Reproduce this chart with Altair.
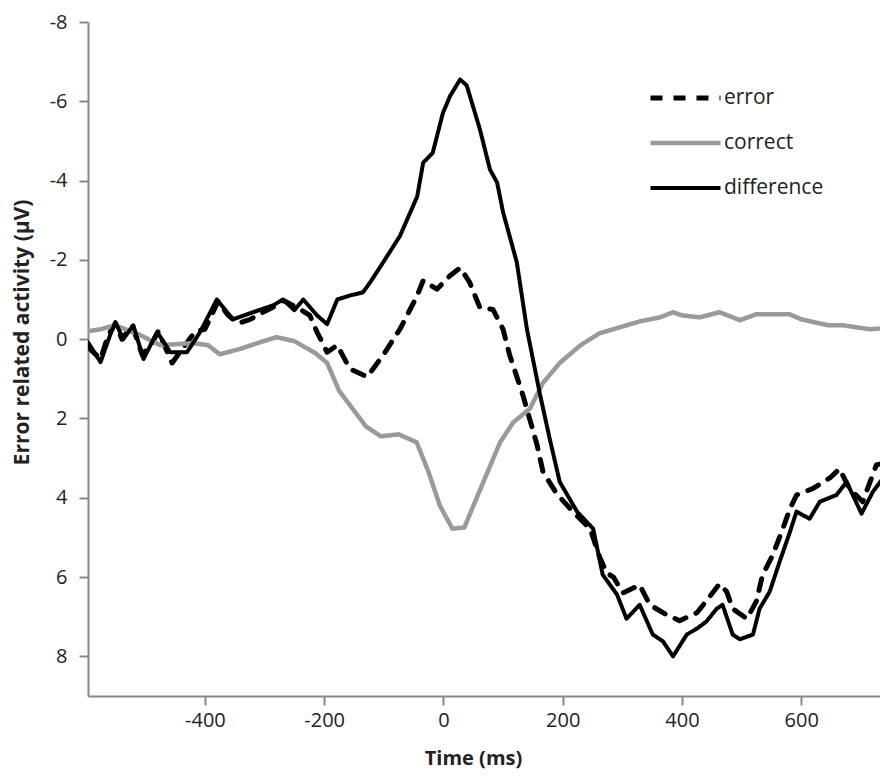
import altair as alt
import pandas as pd

series_names = ["error", "correct", "difference"]

error_t = [-596,-575,-562,-550,-539,-522,-505,-489,-478,-455,
           -438,-416,-400,-378,-361,-344,-324,-300,-280,-269,
           -240,-224,-212,-195,-178,-157,-128,-101,-73,-44,
           -34,-11,11,28,44,61,83,100,111,133,
           150,157,167,190,217,246,262,274,285,301,
           329,346,374,396,425,441,463,475,485,509,
           525,535,552,569,581,592,619,648,664,681,
           703,726,745]
error_v = [0.2,0.5,-0.1,-0.4,0.0,-0.35,0.4,0.1,-0.2,0.6,
           0.25,-0.2,-0.25,-0.95,-0.6,-0.4,-0.5,-0.7,-0.85,-0.98,
           -0.75,-0.6,-0.18,0.33,0.15,0.75,0.95,0.4,-0.25,-1.1,
           -1.48,-1.26,-1.6,-1.8,-1.43,-0.8,-0.75,-0.25,0.4,1.4,
           2.3,2.67,3.35,3.9,4.35,4.78,5.5,5.9,6.0,6.4,
           6.2,6.7,6.95,7.1,6.9,6.6,6.17,6.37,6.8,7.05,
           6.6,5.95,5.45,4.78,4.28,3.93,3.77,3.5,3.27,3.77,
           4.1,3.17,3.1]

correct_t = [-596,-575,-550,-508,-475,-420,-395,-375,-342,-308,
             -280,-250,-215,-195,-175,-150,-130,-105,-75,-45,
             -25,-6,15,35,60,95,117,145,167,195,
             230,262,296,330,363,385,400,430,463,497,
             525,580,600,645,670,715,745]
correct_v = [-0.2,-0.25,-0.35,-0.1,0.15,0.1,0.15,0.38,0.25,0.08,
             -0.05,0.05,0.35,0.6,1.3,1.8,2.2,2.45,2.4,2.6,
             3.35,4.2,4.78,4.75,3.85,2.6,2.1,1.75,1.1,0.6,
             0.15,-0.15,-0.3,-0.45,-0.55,-0.68,-0.6,-0.55,-0.68,-0.48,
             -0.63,-0.63,-0.5,-0.35,-0.35,-0.25,-0.28]

difference_t = [-596,-575,-559,-550,-537,-520,-503,-480,-458,-430,
                -408,-380,-353,-319,-286,-269,-250,-235,-212,-195,
                -178,-157,-135,-123,-101,-73,-44,-34,-18,-1,
                11,28,39,61,78,90,100,123,140,162,
                178,195,224,251,267,291,307,329,351,368,
                385,408,425,441,458,468,485,497,519,530,
                547,564,581,592,614,631,659,676,701,720,
                745]
difference_v = [0.08,0.58,-0.1,-0.43,0.0,-0.35,0.5,-0.18,0.33,0.33,
                -0.18,-1.0,-0.5,-0.68,-0.85,-1.0,-0.73,-1.0,-0.6,-0.38,
                -1.0,-1.1,-1.18,-1.43,-1.94,-2.6,-3.6,-4.45,-4.7,-5.7,
                -6.13,-6.55,-6.4,-5.3,-4.28,-3.95,-3.2,-1.94,-0.25,1.4,
                2.5,3.6,4.35,4.78,5.94,6.44,7.05,6.7,7.45,7.62,
                8.0,7.45,7.3,7.12,6.8,6.7,7.45,7.57,7.45,6.8,
                6.37,5.6,4.86,4.35,4.53,4.1,3.93,3.6,4.4,3.85,
                3.35]

x_ticks = [-400, -200, 0, 200, 400, 600]
y_ticks = [-8, -6, -4, -2, 0, 2, 4, 6, 8]

frames = []
for name, ts, vs in [("error", error_t, error_v),
                     ("correct", correct_t, correct_v),
                     ("difference", difference_t, difference_v)]:
    frames.append(pd.DataFrame({"t": ts, "v": vs, "series": name}))
df = pd.concat(frames, ignore_index=True)

FONT = "Open Sans"

legend = alt.Legend(
    title=None, orient="none", legendX=560, legendY=65,
    symbolType="stroke", symbolSize=4900, symbolStrokeWidth=4,
    clipHeight=22, rowPadding=23, labelFont=FONT, labelFontSize=21,
    labelColor="#222222", labelOffset=1,
)

chart = alt.Chart(df).mark_line(strokeCap="round", strokeJoin="round", clip=True).encode(
    x=alt.X("t:Q",
            scale=alt.Scale(domain=[-596, 732], nice=False, zero=False),
            axis=alt.Axis(values=x_ticks, title="Time (ms)", labelExpr="datum.value + ''",
                          labelPadding=5, titleX=385, titleY=62, titleBaseline="middle",
                          titleFontSize=20)),
    y=alt.Y("v:Q",
            scale=alt.Scale(domain=[-8, 9], reverse=True, nice=False, zero=False),
            axis=alt.Axis(values=y_ticks, title="Error related activity (µV)",
                          labelExpr="datum.value + ''", labelPadding=12,
                          titleX=-66, titleY=310, titleAlign="center", titleBaseline="middle",
                          titleFontSize=21)),
    color=alt.Color("series:N",
                    scale=alt.Scale(domain=series_names, range=["#000000", "#9a9a9a", "#000000"]),
                    legend=legend),
    strokeDash=alt.StrokeDash("series:N",
                              scale=alt.Scale(domain=series_names, range=[[12, 11], [1, 0], [1, 0]]),
                              legend=legend),
    strokeWidth=alt.StrokeWidth("series:N",
                                scale=alt.Scale(domain=series_names, range=[5, 4, 4]),
                                legend=None),
).properties(
    width=792, height=674,
    autosize=alt.AutoSizeParams(type="none"),
    padding={"left": 80, "top": 14, "right": 0, "bottom": 78},
).configure_view(stroke=None).configure_axis(
    grid=False, domainColor="#888888", domainWidth=2, tickColor="#888888", tickWidth=2,
    tickSize=9, labelFont=FONT, labelFontSize=20, labelColor="#222222",
    titleFont=FONT, titleFontWeight="bold", titleColor="#222222",
)

chart.save("out.html", embed_options={"renderer": "svg", "actions": False})
